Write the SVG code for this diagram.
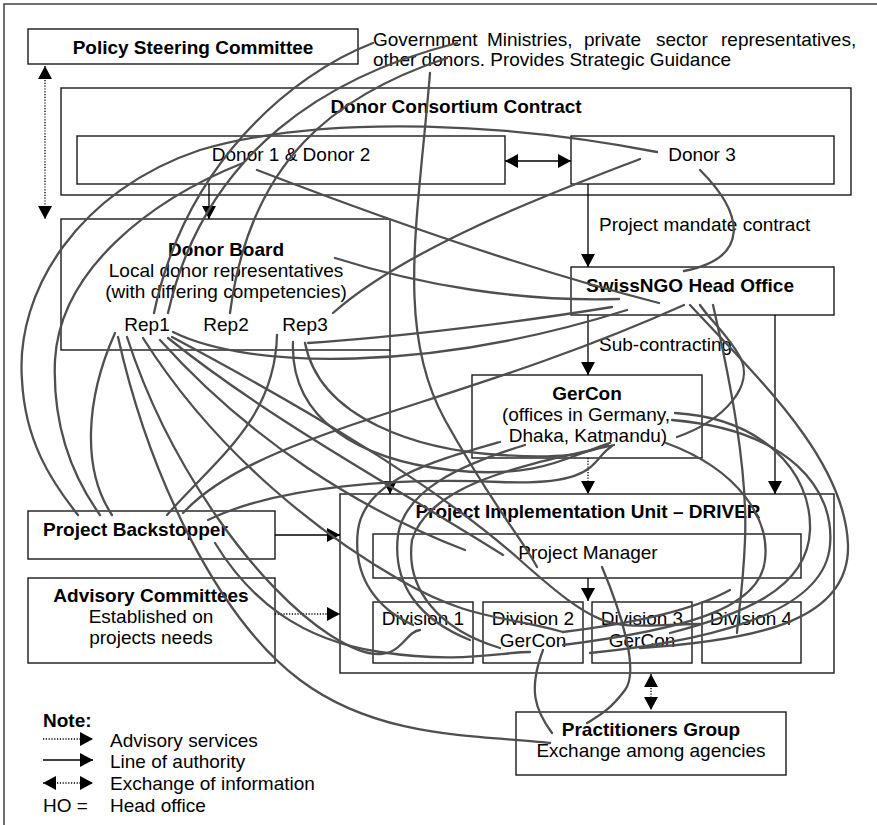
<svg xmlns="http://www.w3.org/2000/svg" width="877" height="825" viewBox="0 0 877 825">
  <style>
    .box { fill: #fff; stroke: #1a1a1a; stroke-width: 1.4; }
    .inner { fill: none; stroke: #1a1a1a; stroke-width: 1.4; }
    .t { font-family: "Liberation Sans", Arial, sans-serif; font-size: 19px; fill: #000; }
    .b { font-weight: bold; }
    .c { text-anchor: middle; }
    .arr { fill: none; stroke: #000; stroke-width: 1.3; }
    .dot { stroke-dasharray: 1.2 1.6; }
    .link { fill: none; stroke: #4f4f4f; stroke-width: 2.3; stroke-linecap: round; }
  </style>
  <defs>
    <marker id="head" markerUnits="userSpaceOnUse" markerWidth="14" markerHeight="14" refX="13" refY="7" orient="auto-start-reverse">
      <path d="M0,0 L13,7 L0,14 Z" fill="#000"/>
    </marker>
  </defs>

  <rect width="877" height="825" fill="#fff"/>
  <rect x="4" y="4" width="900" height="900" fill="none" stroke="#333" stroke-width="1.4"/>

  <!-- nodes -->
  <g id="policy-steering">
    <rect class="box" x="28" y="29" width="330" height="35"/>
    <text class="t b c" x="193" y="54">Policy Steering Committee</text>
  </g>
  <g id="gov-note">
    <text class="t" y="46"><tspan x="373">Government</tspan><tspan x="487">Ministries,</tspan><tspan x="584">private</tspan><tspan x="656">sector</tspan><tspan x="721">representatives,</tspan></text>
    <text class="t" x="373" y="66">other donors. Provides Strategic Guidance</text>
  </g>
  <g id="donor-consortium">
    <rect class="box" x="61" y="88" width="790" height="107"/>
    <text class="t b c" x="456" y="113">Donor Consortium Contract</text>
  </g>
  <g id="donor12">
    <rect class="box" x="77" y="136" width="428" height="48"/>
    <text class="t c" x="291" y="161">Donor 1 &amp; Donor 2</text>
  </g>
  <g id="donor3">
    <rect class="box" x="571" y="136" width="263" height="48"/>
    <text class="t c" x="702" y="161">Donor 3</text>
  </g>
  <g id="donor-board">
    <rect class="box" x="61" y="219" width="329" height="131"/>
    <text class="t b c" x="226" y="256">Donor Board</text>
    <text class="t c" x="226" y="277">Local donor representatives</text>
    <text class="t c" x="226" y="298">(with differing competencies)</text>
    <text class="t c" x="147" y="331">Rep1</text>
    <text class="t c" x="226" y="331">Rep2</text>
    <text class="t c" x="305" y="331">Rep3</text>
  </g>
  <g id="swissngo">
    <rect class="box" x="571" y="267" width="263" height="48"/>
    <text class="t b" x="586" y="292">SwissNGO Head Office</text>
  </g>
  <g id="gercon">
    <rect class="box" x="472" y="375" width="230" height="83"/>
    <text class="t b c" x="587" y="400">GerCon</text>
    <text class="t c" x="586" y="421">(offices in Germany,</text>
    <text class="t c" x="588" y="442">Dhaka, Katmandu)</text>
  </g>
  <g id="piu">
    <rect class="box" x="340" y="494" width="494" height="179"/>
    <text class="t b c" x="588" y="518">Project Implementation Unit – DRIVER</text>
  </g>
  <g id="project-manager">
    <rect class="inner" x="373" y="534" width="428" height="44"/>
    <text class="t c" x="588" y="559">Project Manager</text>
  </g>
  <g id="division1">
    <rect class="inner" x="373" y="602" width="100" height="61"/>
    <text class="t c" x="423" y="625">Division 1</text>
  </g>
  <g id="division2">
    <rect class="inner" x="483" y="602" width="100" height="61"/>
    <text class="t c" x="533" y="625">Division 2</text>
    <text class="t c" x="533" y="647">GerCon</text>
  </g>
  <g id="division3">
    <rect class="inner" x="592" y="602" width="100" height="61"/>
    <text class="t c" x="642" y="625">Division 3</text>
    <text class="t c" x="642" y="647">GerCon</text>
  </g>
  <g id="division4">
    <rect class="inner" x="702" y="602" width="99" height="61"/>
    <text class="t c" x="751" y="625">Division 4</text>
  </g>
  <g id="backstopper">
    <rect class="box" x="28" y="511" width="247" height="48"/>
    <text class="t b" x="43" y="536">Project Backstopper</text>
  </g>
  <g id="advisory">
    <rect class="box" x="28" y="578" width="247" height="85"/>
    <text class="t b c" x="151" y="602">Advisory Committees</text>
    <text class="t c" x="151" y="623">Established on</text>
    <text class="t c" x="151" y="644">projects needs</text>
  </g>
  <g id="practitioners">
    <rect class="box" x="516" y="712" width="270" height="63"/>
    <text class="t b c" x="651" y="736">Practitioners Group</text>
    <text class="t c" x="651" y="757">Exchange among agencies</text>
  </g>

  <!-- structural connectors -->
  <g id="connectors">
    <line class="arr dot" x1="45" y1="66" x2="45" y2="219" marker-start="url(#head)" marker-end="url(#head)"/>
    <line class="arr" x1="505" y1="161" x2="571" y2="161" marker-start="url(#head)" marker-end="url(#head)"/>
    <line class="arr" x1="209" y1="184" x2="209" y2="219" marker-end="url(#head)"/>
    <line class="arr" x1="588" y1="184" x2="588" y2="267" marker-end="url(#head)"/>
    <text class="t" x="599" y="231">Project mandate contract</text>
    <line class="arr" x1="588" y1="315" x2="588" y2="375" marker-end="url(#head)"/>
    <text class="t" x="599" y="351">Sub-contracting</text>
    <line class="arr" x1="775" y1="315" x2="775" y2="494" marker-end="url(#head)"/>
    <line class="arr dot" x1="588" y1="458" x2="588" y2="494" marker-end="url(#head)"/>
    <line class="arr" x1="390" y1="350" x2="390" y2="494" marker-end="url(#head)"/>
    <line class="arr" x1="588" y1="578" x2="588" y2="601" marker-end="url(#head)"/>
    <line class="arr" x1="275" y1="535" x2="340" y2="535" marker-end="url(#head)"/>
    <line class="arr dot" x1="275" y1="614" x2="340" y2="614" marker-end="url(#head)"/>
    <line class="arr dot" x1="651" y1="674" x2="651" y2="710" marker-start="url(#head)" marker-end="url(#head)"/>
  </g>

  <!-- hand-drawn relationship curves -->
  <g id="links" class="link">
    <path d="M373,43 C290,75 185,165 154,313"/>
    <path d="M457,43 C330,75 205,150 168,313"/>
    <path d="M430,73 C418,220 395,330 445,420 S520,535 537,567"/>
    <path d="M447,58 C335,95 250,160 230,313"/>
    <path d="M657,152 C520,125 330,112 200,150 C80,190 15,290 22,380 C25,440 50,480 78,515"/>
    <path d="M640,159 C560,190 410,245 333,313"/>
    <path d="M700,170 C745,215 750,258 684,271"/>
    <path d="M243,163 C150,200 60,270 55,360 C52,430 75,480 100,515"/>
    <path d="M257,170 C400,225 530,270 659,303"/>
    <path d="M115,333 C85,400 82,470 112,515"/>
    <path d="M277,335 C275,420 215,460 167,515"/>
    <path d="M173,332 C250,370 430,372 627,310"/>
    <path d="M308,343 C400,337 520,322 612,307"/>
    <path d="M335,258 C420,285 520,302 619,299"/>
    <path d="M183,513 C260,430 450,410 684,305"/>
    <path d="M208,520 C280,485 400,478 500,482 S590,460 612,446"/>
    <path d="M500,442 C430,462 365,480 358,530 C352,580 380,610 413,625"/>
    <path d="M525,445 C460,465 405,490 398,535 C392,585 420,620 470,640"/>
    <path d="M614,445 C540,462 430,480 412,540 C405,590 440,630 500,648"/>
    <path d="M293,342 C290,420 360,460 450,470 S570,455 610,443"/>
    <path d="M305,343 C320,420 420,450 500,455 S590,450 608,445"/>
    <path d="M675,413 C760,418 812,470 810,530 C808,590 740,615 670,633"/>
    <path d="M672,420 C790,430 835,490 830,545 C825,610 720,640 590,653"/>
    <path d="M666,443 C740,470 770,520 765,560 C760,610 680,630 563,645"/>
    <path d="M677,437 C725,420 755,385 740,357 C728,335 710,320 700,305"/>
    <path d="M690,305 C760,380 845,460 848,545 C850,620 760,640 640,648"/>
    <path d="M713,305 C730,380 748,470 745,540 C743,590 738,615 737,633"/>
    <path d="M118,337 C150,480 220,620 300,680 S480,735 550,743"/>
    <path d="M127,337 C170,470 260,590 330,635 S400,632 420,630"/>
    <path d="M143,338 C220,460 330,540 400,580 S500,615 563,632"/>
    <path d="M160,340 C250,440 360,510 465,550"/>
    <path d="M168,338 C270,420 400,490 503,555"/>
    <path d="M172,337 C290,400 430,480 520,560 S610,625 700,624"/>
    <path d="M215,543 C250,600 300,640 380,652 S500,652 530,652"/>
    <path d="M543,650 C528,690 535,710 552,733"/>
    <path d="M602,567 C620,610 640,670 625,690 S600,715 587,723"/>
    <path d="M730,590 C690,612 620,625 563,632"/>
  </g>

  <!-- legend -->
  <g id="legend">
    <text class="t b" x="43" y="727">Note:</text>
    <line class="arr dot" x1="43" y1="739" x2="93" y2="739" marker-end="url(#head)"/>
    <text class="t" x="110" y="747">Advisory services</text>
    <line class="arr" x1="43" y1="760" x2="93" y2="760" marker-end="url(#head)"/>
    <text class="t" x="110" y="768">Line of authority</text>
    <line class="arr dot" x1="43" y1="783" x2="93" y2="783" marker-start="url(#head)" marker-end="url(#head)"/>
    <text class="t" x="110" y="790">Exchange of information</text>
    <text class="t" x="43" y="812">HO =</text>
    <text class="t" x="110" y="812">Head office</text>
  </g>
</svg>
